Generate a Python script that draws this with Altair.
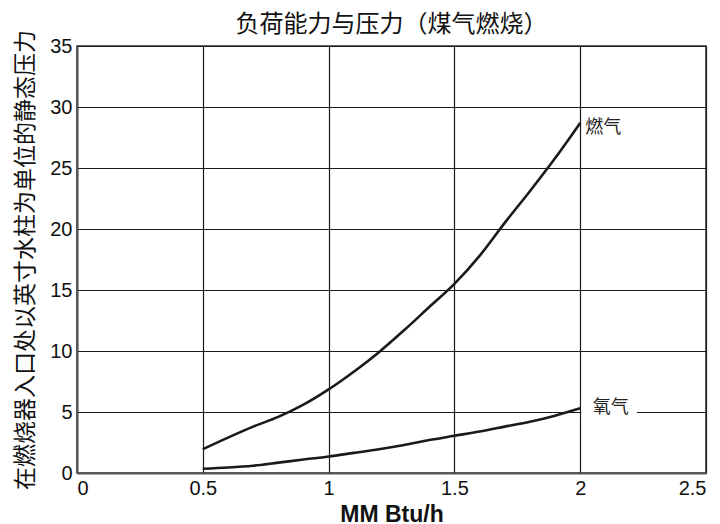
import altair as alt
import pandas as pd

x_vals = [0.5, 0.6, 0.7, 0.8, 0.9, 1.0, 1.1, 1.2, 1.3, 1.4, 1.5, 1.6, 1.7, 1.8, 1.9, 2.0]
gas_vals = [1.95, 2.9, 3.8, 4.6, 5.6, 6.85, 8.3, 9.9, 11.7, 13.6, 15.5, 17.8, 20.5, 23.1, 25.8, 28.7]
oxy_vals = [0.35, 0.45, 0.6, 0.85, 1.1, 1.35, 1.65, 1.95, 2.3, 2.7, 3.05, 3.4, 3.8, 4.2, 4.7, 5.3]

label_text = ["燃气", "氧气"]
label_x = [2.02, 2.05]
label_y = [28.3, 5.3]

# white box behind the oxygen label (breaks the gridline)
box_x = [2.005]
box_x2 = [2.225]
box_y = [4.4]
box_y2 = [6.2]

df = pd.DataFrame({
    "x": x_vals * 2,
    "y": gas_vals + oxy_vals,
    "s": ["燃气"] * len(x_vals) + ["氧气"] * len(x_vals),
})
lab = pd.DataFrame({"t": label_text, "x": label_x, "y": label_y})
box = pd.DataFrame({"x": box_x, "x2": box_x2, "y": box_y, "y2": box_y2})

xs = alt.Scale(domain=[0, 2.5], nice=False)
ys = alt.Scale(domain=[0, 35], nice=False)

lines = alt.Chart(df).mark_line(color="#1a1a1a", strokeWidth=2.6, interpolate="monotone").encode(
    x=alt.X("x:Q", scale=xs,
            axis=alt.Axis(title="MM Btu/h", values=[0, 0.5, 1, 1.5, 2, 2.5], format="~g",
                          titleFontWeight="bold", titleFontSize=23, titleBaseline="alphabetic",
                          titleY=48)),
    y=alt.Y("y:Q", scale=ys,
            axis=alt.Axis(title="在燃烧器入口处以英寸水柱为单位的静态压力", values=list(range(0, 36, 5)),
                          titleFont="Noto Sans CJK SC", titleFontWeight="normal", titleFontSize=23,
                          titlePadding=12)),
    detail="s:N",
)

rect = alt.Chart(box).mark_rect(color="white").encode(
    x="x:Q", x2="x2:Q", y="y:Q", y2="y2:Q"
)

text = alt.Chart(lab).mark_text(align="left", baseline="middle", font="Noto Sans CJK SC",
                                fontSize=18, color="#222").encode(
    x="x:Q", y="y:Q", text="t:N"
)

chart = alt.layer(lines, rect, text).properties(
    width=629, height=427,
    title=alt.TitleParams("负荷能力与压力（煤气燃烧）", font="Noto Sans CJK SC", fontSize=24,
                          fontWeight="normal", color="#111", frame="group", offset=6, dy=13),
    autosize=alt.AutoSizeParams(type="none"),
    padding={"left": 69, "top": 38, "right": 6, "bottom": 51},
).configure_view(
    stroke="#333", strokeWidth=1.5
).configure_axis(
    labelFont="Liberation Sans", labelFontSize=20, labelColor="#111",
    titleFont="Liberation Sans", titleColor="#111",
    ticks=False, grid=True, gridColor="#1a1a1a", gridWidth=1.2, gridOpacity=1,
    domainColor="#555", domainWidth=2, labelPadding=5,
)

chart.save("out.html", embed_options={"renderer": "svg", "actions": False})
